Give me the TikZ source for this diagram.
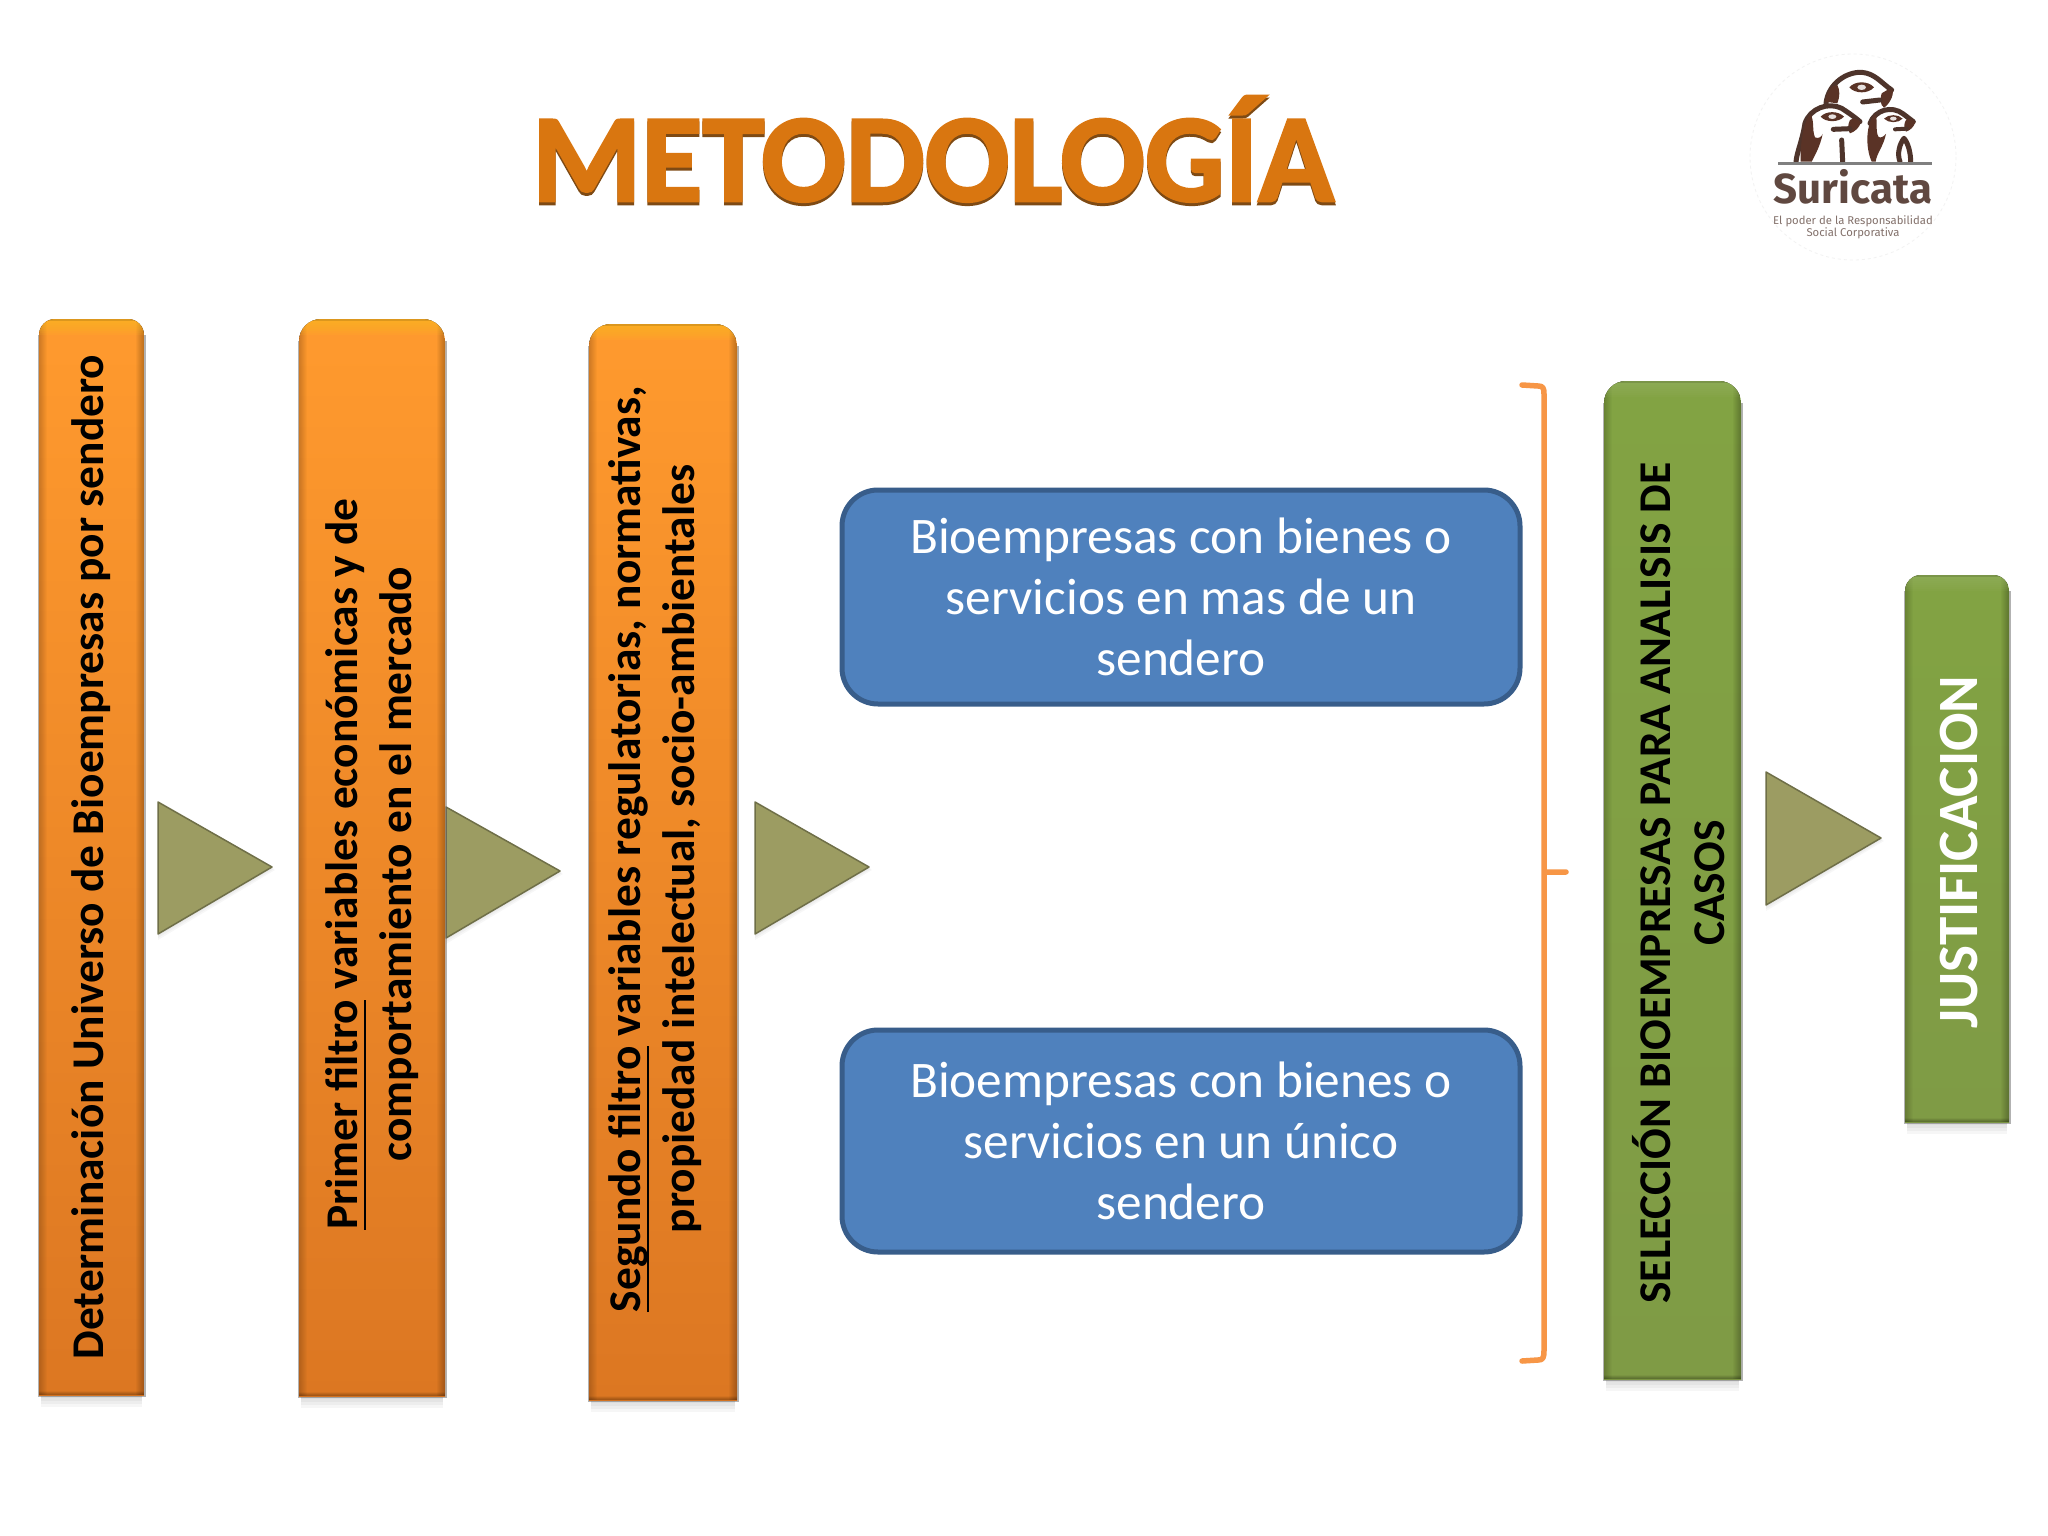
\documentclass[tikz,border=0pt]{standalone}
\usepackage{fontspec}
\setmainfont{Carlito}
\newfontfamily\logofont{Fira Sans}
\newfontfamily\titlefont[UprightFont={* Bold},UprightFeatures={FakeBold=2}]{Carlito}
\usetikzlibrary{fadings}
\definecolor{orangeT}{HTML}{FF9A2E}
\definecolor{orangeB}{HTML}{DC7722}
\definecolor{greenT}{HTML}{82A343}
\definecolor{greenB}{HTML}{7F9B45}
\definecolor{blueF}{HTML}{4F81BD}
\definecolor{blueD}{HTML}{385D8A}
\definecolor{braceC}{HTML}{F79646}
\definecolor{logoB}{HTML}{4E342B}
\definecolor{logoP}{HTML}{5A3326}
\definecolor{titleT}{HTML}{A85204}
\definecolor{titleB}{HTML}{FA8E18}
\definecolor{titleD}{HTML}{7E4A14}
\definecolor{triF}{HTML}{9C9C62}
\definecolor{triD}{HTML}{6F6F48}
\newsavebox\ulbox
\newcommand{\ulx}[1]{\sbox\ulbox{#1}\rlap{\rule[-9pt]{\wd\ulbox}{2.8pt}}\usebox\ulbox}
\tikzset{
  bartext/.style={rotate=90,align=center,font=\fontsize{45.4}{54}\selectfont\bfseries,text=black,inner sep=0pt},
  bluebox/.style={draw=blueD,line width=5pt,fill=blueF,rounded corners=36pt},
  bluetext/.style={text=white,align=center,inner sep=0pt,font=\fontsize{51.3}{61}\selectfont},
  titletext/.style={inner sep=0pt,anchor=base,font=\titlefont\fontsize{125.3}{125}\selectfont},
  tri/.style={draw=triD,line width=1.5pt,line join=round,fill=triF},
  meer/.style={draw=logoB,line width=5pt,line cap=round,line join=round},
  patch/.style={fill=logoP},
}
\begin{tikzfadingfrompicture}[name=titlefade]
  \path (-450pt,-150pt) rectangle (450pt,150pt);
  \node[titletext,text=transparent!0] at (0,0) {METODOLOGÍA};
\end{tikzfadingfrompicture}
\newcommand{\bevelbar}[8]{%
  \foreach \k in {3,6,9,12}{\fill[black,opacity=.035] (#1+2,#4) rectangle (#3-2,#4+\k);}
  \fill[black!60,opacity=.5] (#1-1.5,#2+#5) rectangle (#3+1.5,#4+1.5);
  \begin{scope}
    \clip (#1,#2) rectangle (#3,#4);
    \clip[rounded corners=#5] (#1,#2) rectangle (#3,#4+3*#5);
    \fill[top color=#6,bottom color=#7] (#1,#2) rectangle (#3,#4);
    \foreach \k in {1,...,8}{
      \fill[black,opacity=.022] (#1,#2) rectangle (#1+\k,#4);
      \fill[black,opacity=.030] (#3-\k,#2) rectangle (#3,#4);
      \fill[black,opacity=.04] (#1,#4-\k*.5) rectangle (#3,#4);
    }
    \foreach \k in {2,4,...,16}{
      \fill[#8,opacity=.09] (#1,#2) rectangle (#3,#2+\k);
    }
    \fill[black,opacity=.12] (#1,#2) rectangle (#3,#2+1.5);
  \end{scope}
}
\newcommand{\softtri}[6]{%
  \foreach \k in {2,4,6}{\fill[black,opacity=.03] (#1,#2+\k) -- (#3+\k*.5,#4+\k*.5) -- (#5,#6+\k) -- cycle;}
  \draw[tri] (#1,#2) -- (#3,#4) -- (#5,#6) -- cycle;
}
\begin{document}
\begin{tikzpicture}[x=1pt,y=-1pt]
\useasboundingbox (0,0) rectangle (2048,1536);
\fill[white] (0,0) rectangle (2048,1536);

% title
\node[titletext,text=titleD] (titleshadow) at (933,204) {METODOLOGÍA};
\node[titletext,text=titleB!60!titleT] (title) at (933,201) {METODOLOGÍA};
\path[path fading=titlefade,fit fading=false,fading transform={yshift=-50.5pt},top color=titleT,bottom color=titleB] (933-450,96) rectangle (933+450,205);

% arrows under/over bars
\softtri{158}{802}{272}{867}{158}{934}
\softtri{446}{807}{560}{871}{446}{938}
\softtri{755}{802}{869}{867}{755}{934}
\softtri{1766}{772}{1881}{838}{1766}{905}

% orange bars
\bevelbar{39}{319}{144}{1395}{16}{orangeT}{orangeB}{yellow!45!orangeT}
\bevelbar{299}{319}{445}{1396}{22}{orangeT}{orangeB}{yellow!45!orangeT}
\bevelbar{589}{324}{737}{1400}{22}{orangeT}{orangeB}{yellow!45!orangeT}
\node[bartext] (b1) at (91,857) {Determinación Universo de Bioempresas por sendero};
\node[bartext] (b2) at (372,864) {\ulx{Primer filtro} variables económicas y de\\comportamiento en el mercado};
\node[bartext] (b3) at (655,849) {\ulx{Segundo filtro} variables regulatorias, normativas,\\propiedad intelectual, socio-ambientales};

% blue boxes
\path[bluebox] (842,490) rectangle (1520,704);
\node[bluetext] (blue1) at (1181,597) {Bioempresas con bienes o\\servicios en mas de un\\sendero};
\path[bluebox] (842,1030) rectangle (1520,1252);
\node[bluetext] (blue2) at (1181,1141) {Bioempresas con bienes o\\servicios en un único\\sendero};

% brace
\draw[braceC,line width=5.5pt,line cap=round,line join=round]
  (1522,385) -- (1538,386) .. controls (1543,386) and (1544,388) .. (1544,394)
  -- (1544,872) -- (1566,872) (1544,872)
  -- (1544,1350) .. controls (1544,1358) and (1543,1360) .. (1538,1360) -- (1522,1361);

% green bars
\bevelbar{1604}{381}{1741}{1379}{22}{greenT}{greenB}{white!20!greenT}
\bevelbar{1905}{575}{2009}{1122}{16}{greenT}{greenB}{white!20!greenT}
\node[bartext] (g1) at (1679,883) {SELECCIÓN BIOEMPRESAS PARA ANALISIS DE\\CASOS};
\node[bartext,text=white,font=\fontsize{57}{60}\selectfont\bfseries] (g2) at (1959,852) {JUSTIFICACION};

% logo
\draw[black!5,line width=.8pt,dash pattern=on 3pt off 3pt] (1853,157) circle (103);
\begin{scope}[shift={(1700,40)},x=.3333pt,y=-.3333pt]
  % back meerkat
  \fill[white] (378,190) .. controls (385,130) and (440,95) .. (485,97) .. controls (525,100) and (545,130) .. (578,150) .. controls (580,175) and (565,195) .. (550,200) -- (510,360) -- (430,360) -- cycle;
  \draw[meer] (378,190) .. controls (385,130) and (440,95) .. (485,97) .. controls (525,100) and (545,130) .. (575,150);
  \fill[patch] (375,185) .. controls (380,155) and (395,135) .. (412,135) .. controls (420,150) and (420,170) .. (412,190) -- cycle;
  \fill[patch] (545,160) .. controls (555,155) and (568,142) .. (578,150) .. controls (582,170) and (565,195) .. (552,203) .. controls (540,195) and (540,175) .. (545,160) -- cycle;
  \draw[meer,line width=5pt] (488,186) -- (540,180);
  \fill[logoP] (448,142) .. controls (465,122) and (505,122) .. (522,142) .. controls (505,162) and (465,162) .. (448,142) -- cycle;
  \fill[white!85!logoP] (485,142) ellipse (13 and 8);
  % left meerkat
  \fill[white] (288,365) .. controls (295,320) and (310,285) .. (318,240) .. controls (335,200) and (385,185) .. (425,205) .. controls (445,220) and (460,230) .. (482,245) .. controls (480,260) and (465,275) .. (440,280) -- (425,365) -- cycle;
  \draw[meer] (288,365) .. controls (292,330) and (305,310) .. (315,250) .. controls (330,205) and (385,185) .. (425,205) .. controls (445,218) and (460,228) .. (480,245);
  \draw[meer] (428,365) -- (425,300);
  \fill[patch] (302,365) .. controls (300,310) and (310,250) .. (330,222) .. controls (345,240) and (335,270) .. (345,292) .. controls (355,298) and (365,290) .. (368,282) .. controls (360,320) and (345,345) .. (335,365) -- cycle;
  \fill[patch] (450,240) .. controls (460,232) and (475,238) .. (482,246) .. controls (480,262) and (465,275) .. (450,280) .. controls (440,270) and (445,250) .. (450,240) -- cycle;
  \draw[meer,line width=5pt] (400,268) -- (450,266);
  \fill[logoP] (362,230) .. controls (378,212) and (415,212) .. (432,230) .. controls (415,248) and (378,248) .. (362,230) -- cycle;
  \fill[white!85!logoP] (397,230) ellipse (12 and 7);
  % right meerkat
  \fill[white] (505,365) .. controls (500,300) and (500,250) .. (525,222) .. controls (550,200) and (590,198) .. (610,222) -- (646,248) .. controls (640,262) and (625,272) .. (610,275) -- (630,365) -- cycle;
  \draw[meer] (510,250) .. controls (525,210) and (575,195) .. (610,222) -- (640,245);
  \draw[meer] (600,365) .. controls (590,340) and (600,310) .. (612,295) .. controls (625,310) and (632,340) .. (632,365);
  \fill[patch] (515,365) .. controls (495,320) and (498,250) .. (525,222) .. controls (535,240) and (525,270) .. (535,290) .. controls (542,296) and (550,290) .. (558,282) .. controls (550,320) and (530,340) .. (527,365) -- cycle;
  \fill[patch] (618,240) .. controls (628,232) and (640,238) .. (646,247) .. controls (642,260) and (630,272) .. (618,275) .. controls (610,265) and (612,250) .. (618,240) -- cycle;
  \draw[meer,line width=4pt] (585,268) -- (620,266);
  \fill[logoP] (552,236) .. controls (565,222) and (595,222) .. (608,236) .. controls (595,250) and (565,250) .. (552,236) -- cycle;
  \fill[white!85!logoP] (580,236) ellipse (10 and 6);
\end{scope}
\fill[gray] (1778,162) rectangle (1932,165);
\node[inner sep=0pt,anchor=base,text=logoB!90,font=\logofont\fontsize{42}{42}\selectfont\bfseries] (logoname) at (1853,203) {Suricata};
\node[inner sep=0pt,align=center,text=logoB!70,font=\logofont\fontsize{11.3}{11}\selectfont] (logosub) at (1853,227) {El poder de la Responsabilidad\\Social Corporativa};
\end{tikzpicture}
\end{document}
